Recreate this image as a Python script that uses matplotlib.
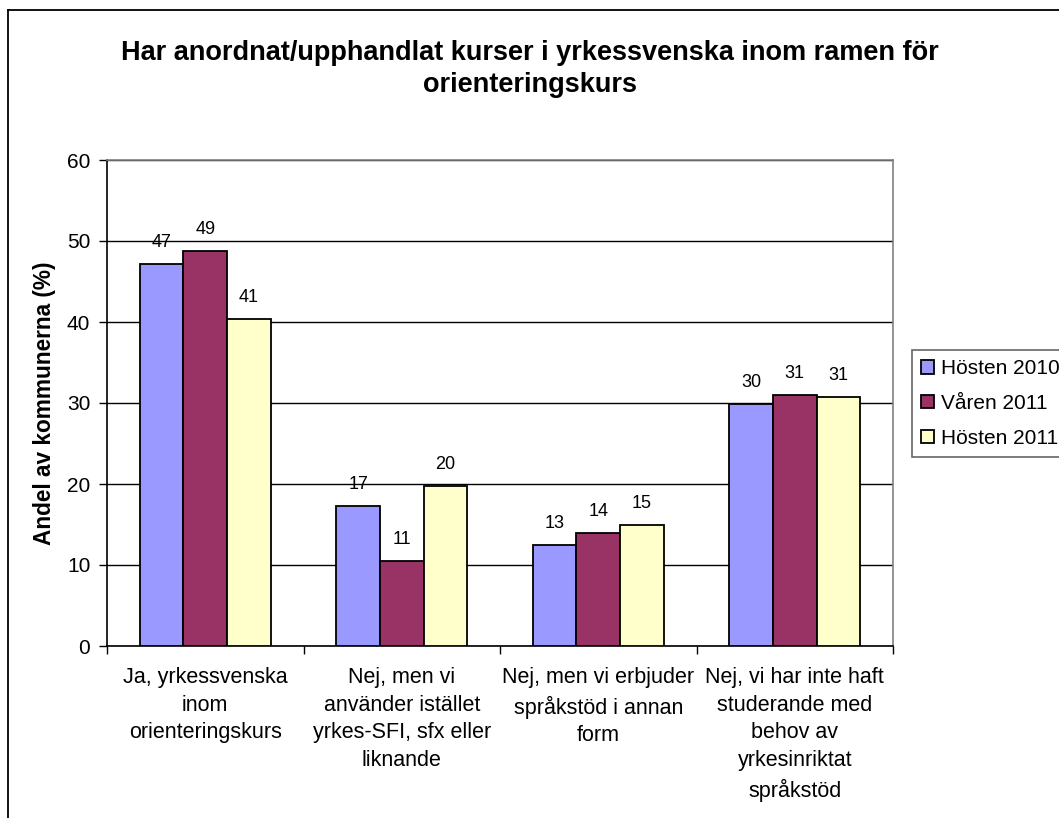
import numpy as np
import matplotlib
matplotlib.use("Agg")
import matplotlib.pyplot as plt
from matplotlib.lines import Line2D

plt.rcParams['font.family'] = ['Liberation Sans', 'DejaVu Sans']

categories = [
    "Ja, yrkessvenska\ninom\norienteringskurs",
    "Nej, men vi\nanvänder istället\nyrkes-SFI, sfx eller\nliknande",
    "Nej, men vi erbjuder\nspråkstöd i annan\nform",
    "Nej, vi har inte haft\nstuderande med\nbehov av\nyrkesinriktat\nspråkstöd",
]
series_names = ["Hösten 2010", "Våren 2011", "Hösten 2011"]
hosten_2010 = [47.2, 17.3, 12.5, 29.9]
varen_2011 = [48.8, 10.5, 13.9, 31.0]
hosten_2011 = [40.4, 19.8, 14.9, 30.7]
labels_2010 = ["47", "17", "13", "30"]
labels_v2011 = ["49", "11", "14", "31"]
labels_h2011 = ["41", "20", "15", "31"]
colors = ["#9999FF", "#993366", "#FFFFCC"]

fig = plt.figure(figsize=(10.59, 8.18), dpi=100)
ax = fig.add_axes([107 / 1059, 1 - 646 / 818, (893 - 107) / 1059, (646 - 160) / 818])

x = np.arange(len(categories))
w = 1 / 4.5
all_vals = [hosten_2010, varen_2011, hosten_2011]
all_labels = [labels_2010, labels_v2011, labels_h2011]
for i, (vals, labs) in enumerate(zip(all_vals, all_labels)):
    pos = x + (i - 1) * w
    ax.bar(pos, vals, width=w, color=colors[i], edgecolor="black", linewidth=1.3,
           label=series_names[i], zorder=3)
    for p, v, t in zip(pos, vals, labs):
        ax.annotate(t, (p, v), xytext=(0, 15.5), textcoords="offset points",
                    ha="center", va="center", fontsize=13)

ax.set_ylim(0, 60)
ax.set_xlim(-0.5, 3.5)
ax.set_yticks(range(0, 61, 10))
ax.yaxis.grid(True, color="black", linewidth=1)
ax.set_axisbelow(True)
ax.set_xticks(x)
ax.set_xticklabels(categories, fontsize=15.5, linespacing=1.42)
ax.tick_params(axis="x", length=0, pad=15)
ax.set_xticks(np.arange(-0.5, 4, 1), minor=True)
ax.tick_params(axis="x", which="minor", length=6, width=1, direction="out")
ax.tick_params(axis="y", length=6, width=1, labelsize=15, pad=6)
for s in ["top", "right"]:
    ax.spines[s].set_color("#808080")
    ax.spines[s].set_linewidth(1.2)
for s in ["left", "bottom"]:
    ax.spines[s].set_color("black")
    ax.spines[s].set_linewidth(1.2)

ax.set_ylabel("Andel av kommunerna (%)", fontsize=16.3, fontweight="bold", labelpad=8)

fig.text(0.5, 1 - 69 / 818, "Har anordnat/upphandlat kurser i yrkessvenska inom ramen för\norienteringskurs",
         ha="center", va="center", fontsize=19.5, fontweight="bold", linespacing=1.25)

leg = fig.legend(loc="upper left", bbox_to_anchor=(912 / 1059, 1 - 350 / 818), fontsize=15,
                 frameon=True, fancybox=False, handlelength=0.6, handleheight=0.6,
                 handletextpad=0.35, borderpad=0.45, labelspacing=0.75, borderaxespad=0)
leg.get_frame().set_edgecolor("#404040")
leg.get_frame().set_linewidth(1.2)

# outer chart border (only left and top show in the crop)
fig.add_artist(Line2D([8 / 1059, 8 / 1059], [0, 1 - 10 / 818], color="black", linewidth=1.3))
fig.add_artist(Line2D([8 / 1059, 1], [1 - 10 / 818, 1 - 10 / 818], color="black", linewidth=1.3))

fig.savefig("out.png", dpi=100)
